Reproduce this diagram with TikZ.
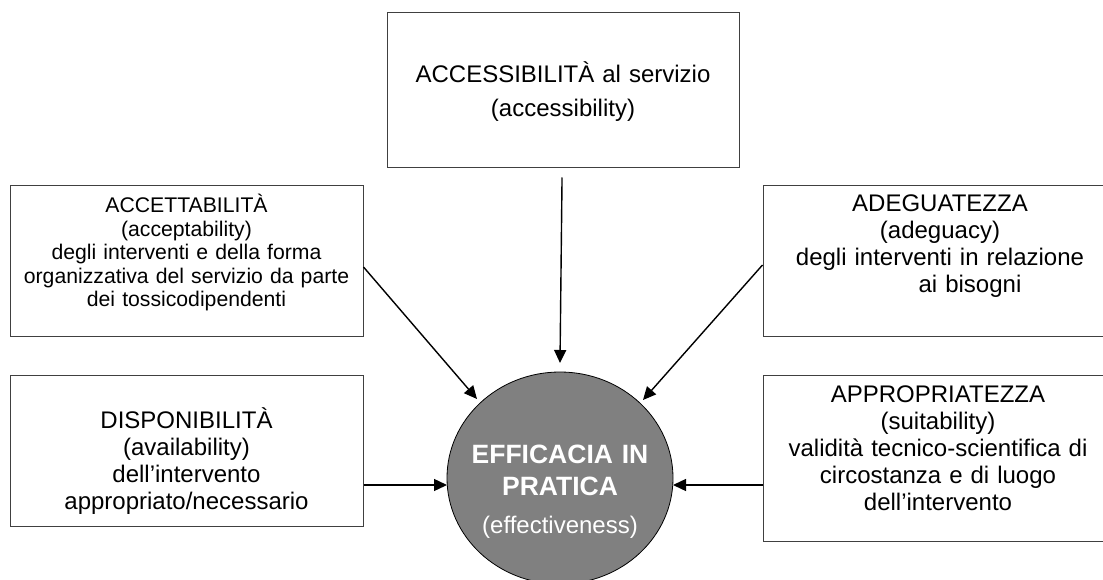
\documentclass[tikz,border=0pt]{standalone}
\usepackage{fontspec}
\setmainfont{Liberation Sans}
\usetikzlibrary{shapes.geometric,arrows.meta}

\begin{document}
\begin{tikzpicture}[x=1pt,y=-1pt]
    \useasboundingbox (0,0) rectangle (1103,580);

    \begin{scope}[every node/.style={rectangle, draw=black!75, line width=1pt, inner sep=0pt}]
        \node[minimum width=352pt, minimum height=155pt] (access) at (563,90.5) {};
        \node[minimum width=353pt, minimum height=150pt] (accett) at (186.5,261) {};
        \node[minimum width=352pt, minimum height=150pt] (adeg) at (939,261) {};
        \node[minimum width=353pt, minimum height=151pt] (disp) at (186.5,450.5) {};
        \node[minimum width=352pt, minimum height=166pt] (appr) at (939,458) {};
    \end{scope}

    \node[ellipse, fill=black!50, draw, line width=0.8pt, minimum width=226pt, minimum height=212pt, inner sep=0pt] (eff) at (560,478) {};

    \begin{scope}[every node/.style={anchor=base, align=center, text width=340pt, inner sep=0pt}]
        \node[font=\fontsize{24}{34}\selectfont] (accesstxt) at (563,83) {ACCESSIBILITÀ al servizio\\(accessibility)};
        \node[font=\fontsize{21.2}{23.5}\selectfont] (accetttxt) at (186.5,213) {ACCETTABILITÀ\\(acceptability)\\degli interventi e della forma\\organizzativa del servizio da parte\\dei tossicodipendenti};
        \node[font=\fontsize{24}{26.7}\selectfont] (adegtxt) at (940,212) {ADEGUATEZZA\\(adeguacy)\\degli interventi in relazione\\\hspace*{60pt}ai bisogni};
        \node[font=\fontsize{24}{27.3}\selectfont] (disptxt) at (186.5,428) {DISPONIBILITÀ\\(availability)\\dell’intervento\\appropriato/necessario};
        \node[font=\fontsize{24}{27}\selectfont] (apprtxt) at (938,402) {APPROPRIATEZZA\\(suitability)\\validità tecnico-scientifica di\\circostanza e di luogo\\dell’intervento};
        \node[text=white, font=\fontsize{26.5}{32}\selectfont\bfseries] (efftxt) at (560,463) {EFFICACIA IN\\PRATICA\\[6pt]{\mdseries\fontsize{24}{32}\selectfont (effectiveness)}};
    \end{scope}

    \coordinate (tipAccess) at (560,363);
    \coordinate (tipAccett) at (477,399);
    \coordinate (tipAdeg) at (643,400);
    \coordinate (tipDisp) at (447,485);
    \coordinate (tipAppr) at (673,485);

    \begin{scope}[every edge/.style={draw, line width=1.4pt, -{Triangle[length=13pt,width=12pt]}}]
        \path (access) edge[shorten <=9pt] (tipAccess);
        \path ([yshift=-6pt]accett.east) edge (tipAccett);
        \path ([yshift=-4pt]adeg.west) edge (tipAdeg);
        \path (disp.east |- tipDisp) edge (tipDisp);
        \path (appr.west |- tipAppr) edge (tipAppr);
    \end{scope}
\end{tikzpicture}
\end{document}
